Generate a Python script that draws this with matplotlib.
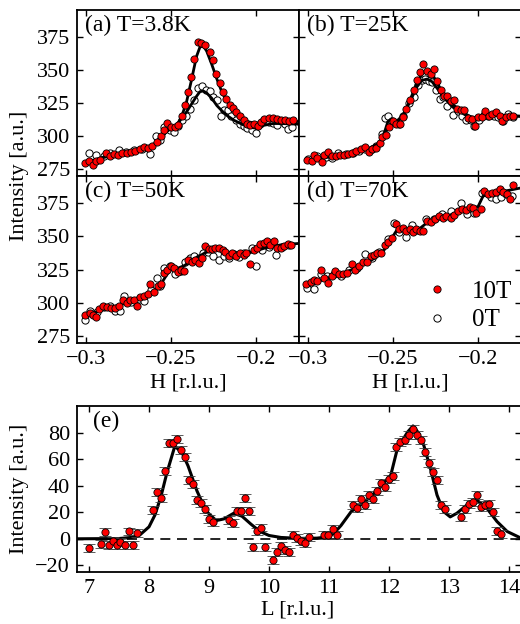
import numpy as np
import matplotlib
matplotlib.use("Agg")
import matplotlib.pyplot as plt
from matplotlib.ticker import FuncFormatter

plt.rcParams['font.family'] = ['Liberation Serif', 'DejaVu Serif']
plt.rcParams['mathtext.fontset'] = 'stix'

#--- panel (a) T=3.8K
Ha_10 = [-0.3004, -0.2980, -0.2961, -0.2941, -0.2916, -0.2882, -0.2857, -0.2833, -0.2810, -0.2786,
         -0.2759, -0.2735, -0.2710, -0.2685, -0.2661, -0.2637, -0.2610, -0.2583, -0.2559, -0.2539,
         -0.2522, -0.2500, -0.2479, -0.2459, -0.2436, -0.2418, -0.2402, -0.2383, -0.2365, -0.2344,
         -0.2322, -0.2298, -0.2273, -0.2253, -0.2234, -0.2214, -0.2197, -0.2177, -0.2155, -0.2136,
         -0.2116, -0.2093, -0.2073, -0.2053, -0.2034, -0.2014, -0.1991, -0.1969, -0.1950, -0.1926,
         -0.1901, -0.1877, -0.1854, -0.1828, -0.1805, -0.1783]
Ia_10 = [279.5, 281.3, 278.0, 281.3, 282.0, 287.0, 285.0, 286.3, 285.5, 287.0,
         287.0, 288.0, 288.5, 290.0, 291.8, 291.0, 292.5, 295.5, 300.0, 304.5,
         310.0, 307.0, 307.0, 308.5, 315.5, 323.3, 333.0, 344.3, 358.0, 370.8,
         370.0, 368.8, 363.0, 357.0, 347.0, 340.0, 333.5, 328.0, 323.8, 321.3,
         318.5, 315.5, 312.5, 309.5, 308.5, 309.5, 307.5, 310.8, 313.0, 313.5,
         313.5, 313.0, 312.0, 311.8, 311.3, 312.5]
Ha_0 = [-0.2984, -0.2939, -0.2896, -0.2857, -0.2808, -0.2763, -0.2716, -0.2671, -0.2622, -0.2587,
        -0.2563, -0.2539, -0.2504, -0.2481, -0.2461, -0.2436, -0.2412, -0.2387, -0.2363, -0.2344,
        -0.2320, -0.2296, -0.2273, -0.2253, -0.2230, -0.2206, -0.2187, -0.2167, -0.2146, -0.2120,
        -0.2097, -0.2073, -0.2050, -0.2026, -0.1999, -0.1975, -0.1951, -0.1926, -0.1901, -0.1877,
        -0.1854, -0.1830, -0.1814, -0.1787]
Ia_0 = [287.0, 285.5, 285.0, 287.0, 289.5, 288.0, 289.5, 290.5, 286.5, 300.0,
        297.0, 307.0, 304.5, 303.0, 307.5, 312.0, 315.5, 320.5, 327.0, 336.0,
        337.5, 334.5, 334.0, 329.5, 327.0, 315.0, 320.0, 319.5, 315.5, 312.5,
        309.5, 307.5, 306.0, 305.0, 302.5, 308.8, 312.5, 311.0, 310.0, 308.5,
        311.5, 309.0, 305.5, 307.0]
Fa_H = [-0.300, -0.290, -0.280, -0.270, -0.262, -0.257, -0.253, -0.250, -0.247, -0.244,
        -0.241, -0.238, -0.235, -0.233, -0.231, -0.229, -0.226, -0.223, -0.220, -0.217,
        -0.213, -0.209, -0.205, -0.200, -0.196, -0.190, -0.185, -0.175]
Fa_10 = [280.0, 284.0, 286.5, 289.0, 292.0, 297.0, 303.0, 306.0, 307.5, 314.0,
         325.0, 342.0, 360.0, 367.0, 368.0, 364.0, 354.0, 343.0, 333.0, 326.0,
         320.0, 315.0, 311.0, 309.5, 311.0, 312.5, 312.0, 311.0]
Fa_0 = [280.0, 284.0, 286.5, 289.0, 292.0, 297.0, 303.0, 306.0, 307.5, 313.0,
        318.0, 324.0, 330.0, 333.5, 334.0, 332.5, 328.5, 323.0, 319.0, 315.5,
        312.0, 309.5, 307.0, 306.0, 308.0, 309.5, 309.5, 309.0]

#--- panel (b) T=25K
Hb_10 = [-0.3004, -0.2979, -0.2965, -0.2945, -0.2920, -0.2904, -0.2881, -0.2861, -0.2837, -0.2814,
         -0.2788, -0.2763, -0.2739, -0.2716, -0.2690, -0.2667, -0.2641, -0.2622, -0.2598, -0.2577,
         -0.2563, -0.2539, -0.2524, -0.2500, -0.2481, -0.2461, -0.2441, -0.2422, -0.2400, -0.2377,
         -0.2357, -0.2344, -0.2322, -0.2298, -0.2279, -0.2259, -0.2240, -0.2220, -0.2200, -0.2181,
         -0.2161, -0.2142, -0.2122, -0.2102, -0.2083, -0.2057, -0.2038, -0.2018, -0.1999, -0.1975,
         -0.1959, -0.1936, -0.1916, -0.1893, -0.1873, -0.1857, -0.1834, -0.1814, -0.1795]
Ib_10 = [282.0, 281.3, 285.5, 283.8, 280.5, 285.5, 288.0, 285.0, 285.0, 285.5,
         285.5, 286.3, 287.0, 288.8, 290.0, 292.0, 288.0, 290.5, 291.3, 295.0,
         299.5, 301.0, 307.0, 311.3, 308.8, 308.8, 314.5, 320.5, 327.0, 334.5,
         342.0, 348.0, 354.5, 348.8, 347.0, 350.5, 341.3, 335.0, 330.0, 330.0,
         326.3, 327.0, 320.5, 320.0, 319.5, 313.8, 313.0, 307.5, 314.5, 314.5,
         318.8, 315.5, 317.0, 318.0, 315.5, 311.3, 314.5, 315.5, 315.0]
Hb_0 = [-0.2998, -0.2945, -0.2896, -0.2861, -0.2822, -0.2779, -0.2735, -0.2700, -0.2665, -0.2622,
        -0.2598, -0.2567, -0.2547, -0.2528, -0.2508, -0.2465, -0.2441, -0.2406, -0.2377, -0.2351,
        -0.2332, -0.2312, -0.2289, -0.2269, -0.2246, -0.2226, -0.2206, -0.2181, -0.2147, -0.2116,
        -0.2093, -0.2069, -0.2044, -0.2024, -0.1995, -0.1965, -0.1940, -0.1906, -0.1881, -0.1854,
        -0.1822, -0.1795]
Ib_0 = [282.5, 285.0, 284.5, 283.8, 287.5, 286.3, 287.5, 288.8, 290.5, 290.0,
        292.5, 302.0, 313.8, 315.5, 311.3, 308.8, 315.0, 325.0, 329.5, 338.8,
        342.0, 343.0, 341.3, 340.5, 335.0, 328.0, 329.5, 322.5, 316.3, 318.8,
        315.0, 312.5, 312.5, 308.0, 312.5, 316.3, 315.5, 315.0, 314.5, 311.3,
        317.0, 314.5]
Fb_H = [-0.300, -0.280, -0.265, -0.258, -0.255, -0.253, -0.251, -0.248, -0.244, -0.240,
        -0.236, -0.233, -0.230, -0.227, -0.224, -0.220, -0.215, -0.210, -0.205, -0.200,
        -0.195, -0.190, -0.175]
Fb_10 = [282.0, 286.0, 290.0, 294.0, 300.0, 307.0, 309.0, 310.0, 316.0, 327.0,
         340.0, 347.0, 349.0, 347.0, 340.0, 331.0, 324.0, 319.0, 315.0, 313.0,
         315.0, 316.0, 315.0]
Fb_0 = [282.0, 286.0, 290.0, 295.0, 303.0, 311.0, 313.0, 311.0, 316.0, 326.0,
        337.0, 342.0, 343.0, 341.0, 336.0, 329.0, 322.0, 318.0, 314.0, 312.5,
        314.5, 315.5, 315.0]

#--- panel (c) T=50K
Hc_10 = [-0.3004, -0.2979, -0.2959, -0.2939, -0.2926, -0.2900, -0.2877, -0.2853, -0.2828, -0.2808,
         -0.2783, -0.2759, -0.2743, -0.2720, -0.2700, -0.2681, -0.2657, -0.2638, -0.2622, -0.2598,
         -0.2579, -0.2559, -0.2543, -0.2524, -0.2500, -0.2481, -0.2461, -0.2441, -0.2422, -0.2400,
         -0.2377, -0.2357, -0.2338, -0.2318, -0.2300, -0.2279, -0.2259, -0.2240, -0.2220, -0.2197,
         -0.2181, -0.2161, -0.2142, -0.2116, -0.2097, -0.2073, -0.2057, -0.2038, -0.2014, -0.1995,
         -0.1975, -0.1955, -0.1936, -0.1916, -0.1897, -0.1877, -0.1854, -0.1834, -0.1814, -0.1795]
Ic_10 = [291.3, 292.5, 291.3, 289.5, 295.5, 298.0, 297.0, 296.3, 296.3, 298.0,
         302.0, 300.0, 302.5, 302.5, 298.0, 304.5, 305.0, 307.0, 314.5, 308.0,
         313.0, 314.5, 322.5, 324.5, 328.0, 326.3, 323.0, 324.5, 323.8, 332.0,
         330.5, 332.0, 330.0, 333.8, 342.5, 340.5, 340.0, 341.3, 341.3, 339.5,
         338.0, 335.0, 337.0, 335.0, 337.0, 335.5, 337.5, 329.5, 339.5, 341.3,
         343.8, 345.0, 346.3, 343.0, 346.3, 341.3, 341.3, 342.5, 343.8, 343.0]
Hc_0 = [-0.3004, -0.2975, -0.2935, -0.2896, -0.2857, -0.2828, -0.2802, -0.2779, -0.2735, -0.2690,
        -0.2661, -0.2618, -0.2583, -0.2567, -0.2539, -0.2504, -0.2475, -0.2441, -0.2416, -0.2387,
        -0.2363, -0.2338, -0.2312, -0.2285, -0.2253, -0.2220, -0.2191, -0.2161, -0.2132, -0.2102,
        -0.2073, -0.2024, -0.1999, -0.1965, -0.1926, -0.1881, -0.1848, -0.1808]
Ic_0 = [287.5, 293.8, 293.0, 297.0, 298.0, 293.8, 293.8, 305.5, 300.5, 303.0,
        301.3, 310.0, 318.8, 312.5, 326.3, 327.5, 321.3, 323.8, 330.5, 333.8,
        335.0, 333.8, 337.0, 338.0, 335.0, 332.5, 335.0, 333.8, 336.3, 334.5,
        337.0, 341.3, 327.5, 339.5, 342.0, 335.5, 342.0, 343.0]
Fc_H = [-0.300, -0.290, -0.280, -0.270, -0.262, -0.256, -0.252, -0.249, -0.246, -0.242,
        -0.238, -0.234, -0.230, -0.225, -0.220, -0.215, -0.210, -0.205, -0.200, -0.195,
        -0.190, -0.185, -0.175]
Fc_10 = [290.5, 295.0, 298.5, 302.5, 307.0, 314.0, 322.0, 326.5, 326.0, 328.0,
         332.0, 334.5, 337.5, 339.5, 339.0, 337.5, 336.5, 337.0, 339.0, 341.0,
         342.5, 343.5, 344.5]

#--- panel (d) T=70K
Hd_10 = [-0.3010, -0.2984, -0.2965, -0.2945, -0.2926, -0.2906, -0.2881, -0.2861, -0.2841, -0.2818,
         -0.2794, -0.2769, -0.2743, -0.2724, -0.2700, -0.2677, -0.2651, -0.2632, -0.2612, -0.2593,
         -0.2573, -0.2547, -0.2528, -0.2508, -0.2485, -0.2465, -0.2441, -0.2422, -0.2402, -0.2383,
         -0.2363, -0.2344, -0.2324, -0.2298, -0.2279, -0.2253, -0.2230, -0.2206, -0.2187, -0.2161,
         -0.2142, -0.2116, -0.2093, -0.2073, -0.2049, -0.2030, -0.2010, -0.1985, -0.1965, -0.1940,
         -0.1916, -0.1893, -0.1873, -0.1854, -0.1828, -0.1814, -0.1795]
Id_10 = [313.8, 315.5, 317.0, 316.3, 325.0, 318.8, 315.0, 320.5, 323.8, 321.3,
         322.0, 322.5, 329.5, 324.5, 327.5, 330.5, 330.5, 335.0, 335.5, 337.0,
         337.5, 343.0, 345.5, 348.8, 358.8, 355.5, 356.3, 353.8, 355.5, 353.0,
         355.0, 353.8, 353.8, 361.3, 360.5, 362.5, 365.0, 363.8, 365.0, 363.8,
         365.5, 368.8, 370.5, 369.5, 372.0, 371.3, 367.0, 370.0, 383.8, 381.3,
         382.0, 383.0, 385.0, 383.0, 381.3, 378.0, 388.0]
Hd_0 = [-0.3004, -0.2965, -0.2926, -0.2886, -0.2847, -0.2808, -0.2759, -0.2710, -0.2665, -0.2622,
        -0.2583, -0.2528, -0.2494, -0.2465, -0.2426, -0.2387, -0.2357, -0.2308, -0.2259, -0.2210,
        -0.2161, -0.2102, -0.2063, -0.2024, -0.1979, -0.1926, -0.1897, -0.1867, -0.1838, -0.1799]
Id_0 = [311.3, 310.5, 322.0, 320.0, 321.3, 320.5, 325.0, 326.3, 336.3, 333.8,
        338.0, 348.0, 359.5, 353.0, 349.5, 358.0, 354.5, 363.0, 363.0, 366.3,
        368.8, 374.5, 366.3, 367.0, 382.0, 379.5, 378.0, 379.5, 381.3, 380.0]
Fd_H = [-0.300, -0.290, -0.280, -0.270, -0.260, -0.255, -0.250, -0.247, -0.244, -0.240,
        -0.235, -0.230, -0.225, -0.220, -0.215, -0.210, -0.205, -0.200, -0.197, -0.193,
        -0.190, -0.185, -0.175]
Fd_10 = [313.0, 318.0, 322.0, 327.0, 334.0, 340.0, 350.0, 356.0, 354.5, 354.0,
         355.0, 360.0, 362.0, 364.0, 366.5, 369.0, 371.0, 372.0, 380.0, 382.0,
         382.5, 383.5, 386.0]

#--- panel (e) L scan
L_pts = [7.00, 7.20, 7.27, 7.33, 7.40, 7.46, 7.52, 7.60, 7.66, 7.74,
         7.80, 8.06, 8.13, 8.20, 8.26, 8.33, 8.40, 8.46, 8.53, 8.60,
         8.66, 8.73, 8.80, 8.86, 8.93, 9.00, 9.06, 9.33, 9.40, 9.47,
         9.53, 9.60, 9.66, 9.73, 9.80, 9.86, 9.93, 10.06, 10.13, 10.20,
         10.26, 10.33, 10.40, 10.46, 10.53, 10.60, 10.66, 10.92, 10.98, 11.06,
         11.13, 11.40, 11.46, 11.53, 11.60, 11.66, 11.73, 11.80, 11.86, 11.93,
         12.00, 12.06, 12.12, 12.19, 12.26, 12.33, 12.40, 12.46, 12.53, 12.60,
         12.66, 12.73, 12.80, 12.86, 12.93, 13.20, 13.26, 13.33, 13.40, 13.46,
         13.53, 13.60, 13.66, 13.73, 13.80, 13.86]
I_pts = [-7.0, -4.0, 5.0, -5.0, -2.0, -4.5, -2.5, -5.0, 5.5, -5.0,
         4.2, 22.0, 35.0, 30.7, 51.0, 72.0, 72.5, 75.0, 67.0, 61.4,
         44.5, 41.5, 29.0, 26.7, 22.5, 15.0, 12.7, 14.5, 12.0, 20.7,
         20.7, 30.5, 20.7, -6.5, 5.5, 8.5, -6.0, -16.0, -10.0, -5.5,
         -8.2, -10.0, 2.5, 0.5, -2.0, -3.2, 1.5, 3.0, 2.5, 7.7,
         2.8, 25.7, 23.5, 29.7, 25.5, 33.0, 29.7, 36.2, 42.0, 39.0,
         45.0, 47.5, 69.0, 73.0, 74.7, 78.0, 82.4, 78.0, 74.7, 65.0,
         57.0, 50.4, 44.2, 25.5, 22.5, 16.3, 22.2, 26.2, 27.5, 32.7,
         24.2, 25.7, 26.2, 20.0, 6.0, 3.7]
I_err = 3.0
Fe_L = [6.80, 7.50, 7.70, 7.85, 8.00, 8.10, 8.20, 8.30, 8.43, 8.55,
        8.65, 8.80, 8.95, 9.12, 9.25, 9.41, 9.55, 9.70, 9.85, 10.00,
        10.20, 10.50, 10.80, 11.00, 11.10, 11.20, 11.37, 11.60, 11.81, 12.03,
        12.14, 12.31, 12.40, 12.48, 12.58, 12.69, 12.80, 12.91, 13.02, 13.13,
        13.30, 13.47, 13.63, 13.80, 13.97, 14.20]
Fe_I = [0.0, 0.2, 1.0, 3.0, 9.0, 18.0, 32.0, 50.0, 69.7, 65.0,
        55.0, 36.0, 21.0, 13.7, 15.0, 19.2, 17.0, 11.0, 5.5, 2.5,
        1.0, 0.3, 0.5, 1.5, 5.0, 10.0, 20.5, 28.0, 36.7, 48.0,
        68.0, 80.4, 85.0, 80.4, 70.4, 53.0, 33.0, 20.5, 16.5, 19.2,
        25.5, 29.0, 23.0, 13.0, 5.5, 0.5]

W, Hpx = 520.0, 624.0
FS = 16
MS = 5.2
fig = plt.figure(figsize=(W / 100, Hpx / 100), dpi=100)

def pix_axes(left, top, right, bottom):
    return fig.add_axes([left / W, 1 - bottom / Hpx, (right - left) / W, (bottom - top) / Hpx])

def style(ax):
    ax.tick_params(direction='in', top=True, right=True, length=4, width=1,
                   labelsize=FS, pad=5)
    for s in ax.spines.values():
        s.set_linewidth(1.3)

hfmt = FuncFormatter(lambda v, p: ('%g' % v).replace('-', '\u2212'))

panels = [
    ("(a) T=3.8K", (77, 10, 299, 176), Ha_10, Ia_10, Ha_0, Ia_0, [(Fa_H, Fa_10), (Fa_H, Fa_0)]),
    ("(b) T=25K", (299, 10, 521, 176), Hb_10, Ib_10, Hb_0, Ib_0, [(Fb_H, Fb_10), (Fb_H, Fb_0)]),
    ("(c) T=50K", (77, 176, 299, 343), Hc_10, Ic_10, Hc_0, Ic_0, [(Fc_H, Fc_10)]),
    ("(d) T=70K", (299, 176, 521, 343), Hd_10, Id_10, Hd_0, Id_0, [(Fd_H, Fd_10)]),
]
axs = []
for ind, (lab, box, h10, i10, h0, i0, fits) in enumerate(panels):
    ax = pix_axes(*box)
    style(ax)
    ax.plot(h0, i0, 'o', ms=MS, mfc='white', mec='k', mew=0.7, zorder=2, label='0T')
    for fh, fi in fits:
        ax.plot(fh, fi, '-', color='k', lw=2, zorder=3)
    ax.plot(h10, i10, 'o', ms=MS, mfc='#ff0000', mec='k', mew=0.6, zorder=4, label='10T')
    ax.set_xlim(-0.3053, -0.1747)
    ax.set_ylim(270, 395)
    ax.set_xticks([-0.3, -0.25, -0.2])
    ax.set_yticks([275, 300, 325, 350, 375])
    ax.xaxis.set_major_formatter(hfmt)
    ax.text(0.035, 0.97, lab, transform=ax.transAxes, ha='left', va='top', fontsize=FS + 1)
    if ind % 2 == 1:
        ax.set_yticklabels([])
    if ind < 2:
        ax.set_xticklabels([])
    axs.append(ax)

h, l = axs[3].get_legend_handles_labels()
axs[3].legend([h[1], h[0]], ['10T', '0T'], loc='lower right', frameon=False, fontsize=FS + 2,
              handletextpad=0.8, borderaxespad=0.2, labelspacing=0.25, handlelength=1.2,
              bbox_to_anchor=(1.03, -0.02))
fig.text(20 / W, 1 - 176 / Hpx, "Intensity [a.u.]", rotation=90, ha='center', va='center', fontsize=FS)
fig.text(188 / W, 1 - 383 / Hpx, "H [r.l.u.]", ha='center', va='center', fontsize=FS)
fig.text(410 / W, 1 - 383 / Hpx, "H [r.l.u.]", ha='center', va='center', fontsize=FS)

#--- (e)
ax = pix_axes(77, 406, 521, 572)
style(ax)
ax.axhline(0, color='k', lw=1.2, ls=(0, (6, 4)), zorder=1)
ax.plot(Fe_L, Fe_I, '-', color='k', lw=2.2, zorder=2)
ax.errorbar(L_pts, I_pts, yerr=I_err, fmt='o', ms=MS, mfc='#ff0000', mec='k', mew=0.6,
            ecolor='0.25', elinewidth=0.8, capsize=4, capthick=0.8, zorder=3)
ax.set_xlim(6.8, 14.2)
ax.set_ylim(-25, 100)
ax.set_xticks(range(7, 15))
ax.set_yticks([-20, 0, 20, 40, 60, 80])
ax.yaxis.set_major_formatter(hfmt)
ax.text(0.035, 0.97, "(e)", transform=ax.transAxes, ha='left', va='top', fontsize=FS + 1)
fig.text(20 / W, 1 - 489 / Hpx, "Intensity [a.u.]", rotation=90, ha='center', va='center', fontsize=FS)
fig.text(298 / W, 1 - 610 / Hpx, "L [r.l.u.]", ha='center', va='center', fontsize=FS)

plt.savefig("out.png", dpi=100)
